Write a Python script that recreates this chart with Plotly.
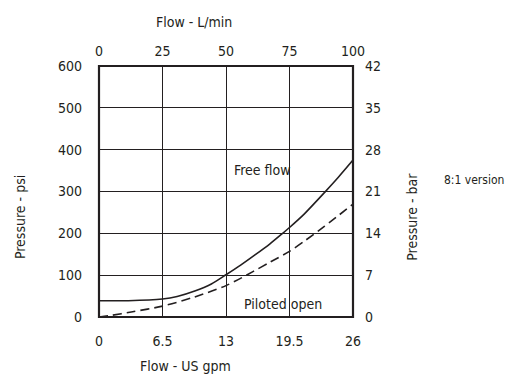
import plotly.graph_objects as go

# Flow in US gpm and pressure in psi
free_gpm = [0, 3, 6.5, 8, 9.8, 11.5, 13, 14.5, 16, 17.5, 18.8, 19.5, 21, 23.1, 24.5, 26]
free_flow_psi = [39, 39, 43, 49, 62, 79, 101, 124, 149, 175, 200, 214, 246, 298, 334, 375]
piloted_gpm = [0, 1, 3.3, 6.5, 9.8, 13, 15.8, 17.5, 19.5, 21, 23.1, 26]
piloted_open_psi = [0, 3, 12, 26, 48, 75, 109, 131, 157, 181, 217, 270]

gpm_ticks = [0, 6.5, 13, 19.5, 26]
gpm_labels = ["0", "6.5", "13", "19.5", "26"]
lpm_labels = ["0", "25", "50", "75", "100"]
psi_ticks = [0, 100, 200, 300, 400, 500, 600]
bar_ticks = [0, 7, 14, 21, 28, 35, 42]

FONT = "Liberation Sans Narrow, DejaVu Sans Condensed, Arial Narrow, sans-serif"
INK = "#231f20"

fig = go.Figure()

fig.add_trace(go.Scatter(
    x=free_gpm, y=free_flow_psi, mode="lines", name="Free flow",
    line=dict(color=INK, width=1.6, shape="spline", smoothing=0.8),
    showlegend=False,
))
fig.add_trace(go.Scatter(
    x=piloted_gpm, y=piloted_open_psi, mode="lines", name="Piloted open",
    line=dict(color=INK, width=1.6, dash="9px,5px", shape="spline", smoothing=0.8),
    showlegend=False,
))
# invisible trace so the top and right axes are drawn
fig.add_trace(go.Scatter(x=[0, 26], y=[0, 42], xaxis="x2", yaxis="y2", mode="markers",
                         marker=dict(opacity=0), hoverinfo="skip", showlegend=False))

fig.add_annotation(x=16.75, y=352, text="Free flow", showarrow=False,
                   font=dict(family=FONT, size=14, color=INK))
fig.add_annotation(x=18.8, y=30, text="Piloted open", showarrow=False,
                   font=dict(family=FONT, size=14, color=INK))

for text, x, y, angle, size in [
    ("Flow - L/min", 0.374, 1.175, 0, 14),
    ("Flow - US gpm", 0.339, -0.195, 0, 14),
    ("Pressure - psi", -0.311, 0.398, -90, 14),
    ("Pressure - bar", 1.231, 0.398, -90, 14),
    ("8:1 version", 1.476, 0.546, 0, 12),
]:
    fig.add_annotation(x=x, y=y, xref="paper", yref="paper", text=text, showarrow=False,
                       xanchor="center", yanchor="middle", textangle=angle,
                       font=dict(family=FONT, size=size, color=INK))

tick_font = dict(family=FONT, size=14, color=INK)
axis_common = dict(showline=False, zeroline=False, ticks="", tickfont=tick_font)

fig.update_layout(
    width=507, height=374,
    paper_bgcolor="white", plot_bgcolor="white",
    margin=dict(l=99, r=154, t=66, b=57),
    xaxis=dict(range=[0, 26], tickvals=gpm_ticks, ticktext=gpm_labels,
               showgrid=True, gridcolor=INK, gridwidth=1,
               ticklabelstandoff=14, **axis_common),
    xaxis2=dict(range=[0, 26], overlaying="x", side="top", tickvals=gpm_ticks,
                ticktext=lpm_labels, showgrid=False, ticklabelstandoff=6, **axis_common),
    yaxis=dict(range=[0, 600], tickvals=psi_ticks, showgrid=True, gridcolor=INK,
               gridwidth=1, ticklabelstandoff=16, **axis_common),
    yaxis2=dict(range=[0, 42], overlaying="y", side="right", tickvals=bar_ticks,
                showgrid=False, ticklabelstandoff=11, **axis_common),
    shapes=[dict(type="rect", xref="paper", yref="paper", x0=0, x1=1, y0=0, y1=1,
                 line=dict(color=INK, width=2.2), layer="above")],
)

fig.write_html("out.html", config={"displayModeBar": False},
               post_script="document.body.style.margin='0';")
